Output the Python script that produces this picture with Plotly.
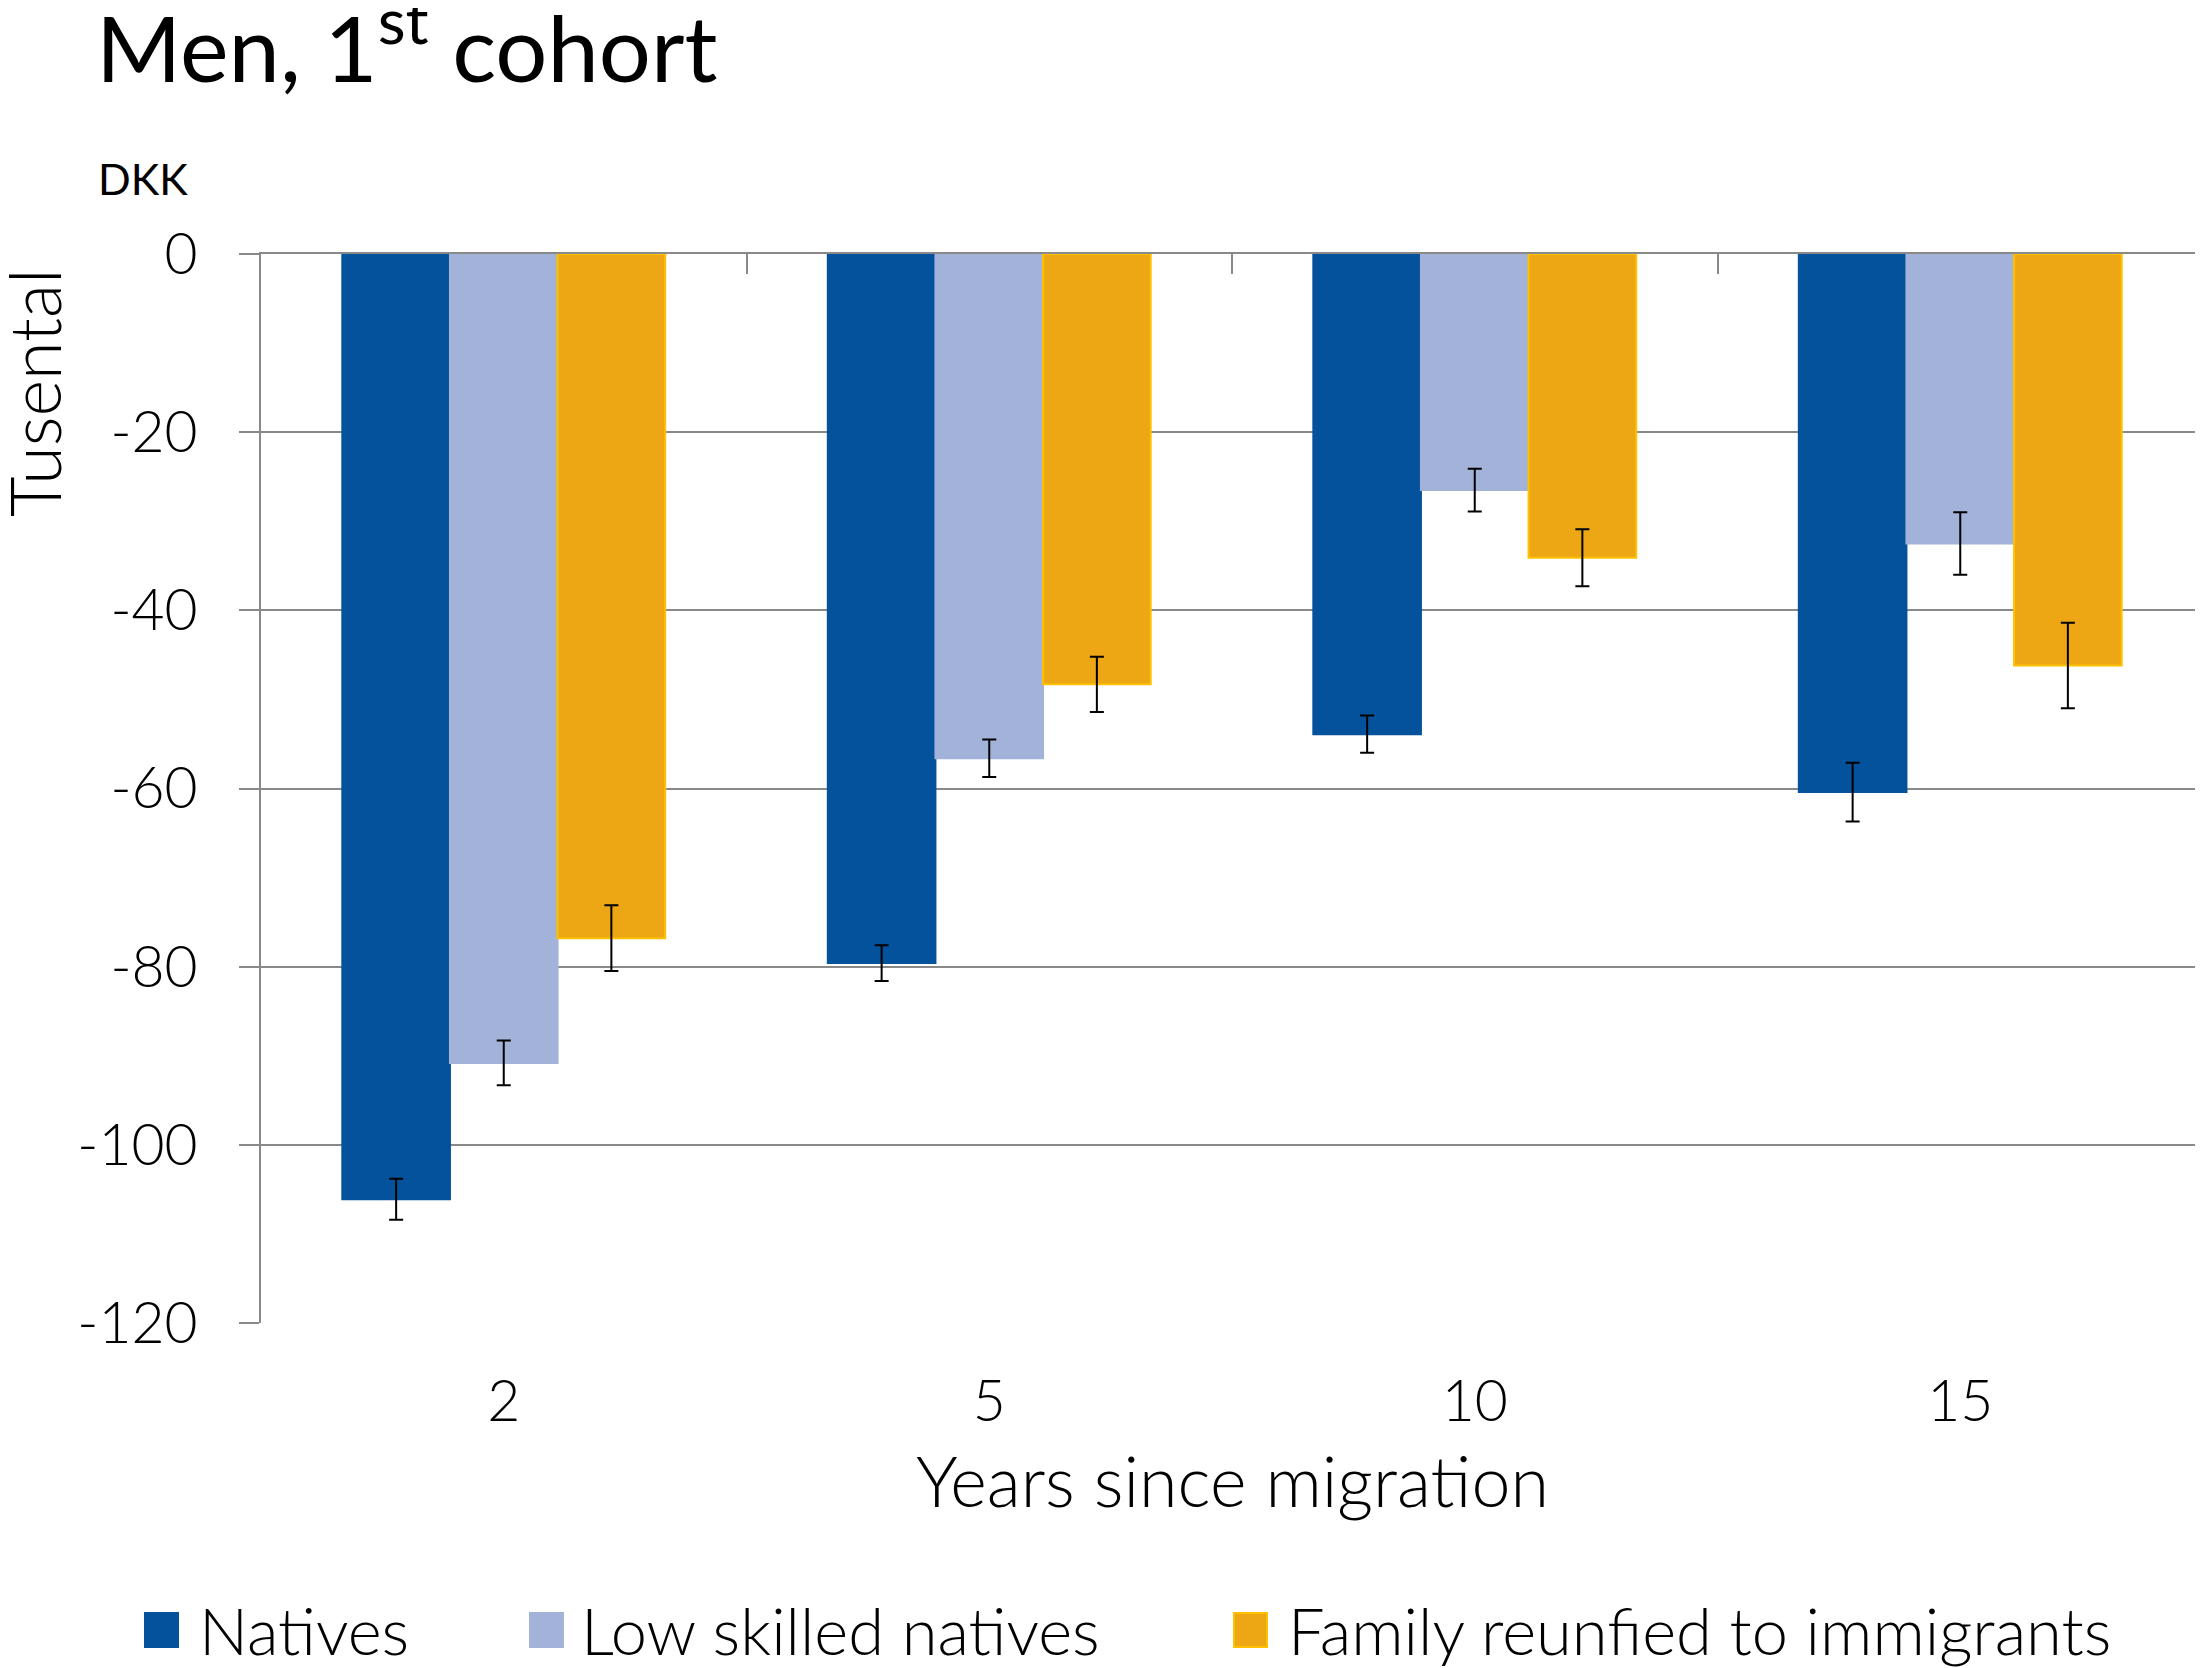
import plotly.graph_objects as go

# data (thousand DKK)
YEARS = ["2", "5", "10", "15"]
SERIES = ["Natives", "Low skilled natives", "Family reunfied to immigrants"]
NATIVES = [-106.1, -79.6, -53.9, -60.4]
NATIVES_ERR = [2.3, 2.0, 2.1, 3.3]
LOW_SKILLED = [-90.8, -56.6, -26.5, -32.5]
LOW_SKILLED_ERR = [2.5, 2.1, 2.4, 3.5]
FAMILY = [-76.8, -48.3, -34.1, -46.2]
FAMILY_ERR = [3.7, 3.1, 3.2, 4.8]
Y_TICKS = [0, -20, -40, -60, -80, -100, -120]
Y_TICK_LABELS = ["0", "-20", "-40", "-60", "-80", "-100", "-120"]

COLORS = ["#04529C", "#A2B2D9", "#EDA614"]
LINES = ["#04529C", "#A2B2D9", "#FFC000"]
GRID = "#898989"

# the page puts the figure 8px in from the top-left corner
OFF = 8
W, H = 2203 - OFF, 1668 - OFF
PLOT_L, PLOT_T, PLOT_B = 261, 254, 1323  # in page pixels
L, R, T, B = PLOT_L - OFF, 0, PLOT_T - OFF, H - (PLOT_B - OFF)


def px(x):
    return (x - PLOT_L) / (W - L - R)


def py(y):
    return (PLOT_B - y) / (PLOT_B - PLOT_T)


xpos = list(range(len(YEARS)))
values = [NATIVES, LOW_SKILLED, FAMILY]
errors = [NATIVES_ERR, LOW_SKILLED_ERR, FAMILY_ERR]

fig = go.Figure()
for name, vals, errs, col, lc in zip(SERIES, values, errors, COLORS, LINES):
    fig.add_trace(go.Bar(
        x=xpos,
        y=vals,
        name=name,
        marker=dict(color=col, line=dict(color=lc, width=2)),
        error_y=dict(type="data", array=errs, color="black", thickness=2, width=7),
        showlegend=False
    ))

tick_font = dict(family="Lato", size=57, color="black", weight=300)

fig.update_layout(
    width=W,
    height=H,
    margin=dict(l=L, r=R, t=T, b=B),
    paper_bgcolor="white",
    plot_bgcolor="white",
    barmode="group",
    bargap=0.335,
    bargroupgap=0,
    font=dict(family="Lato", color="black"),
    title=dict(
        text="Men, 1<sup>st</sup> cohort",
        font=dict(family="Lato", size=92, color="black"),
        x=(96 - OFF) / W, xref="container", xanchor="left",
        y=1 - (50 - OFF) / H, yref="container", yanchor="middle"
    ),
    xaxis=dict(
        range=[-0.5, len(YEARS) - 0.5],
        tickvals=xpos,
        ticktext=YEARS,
        tickfont=tick_font,
        ticks="",
        ticklabelstandoff=40,
        showgrid=False,
        showline=False,
        zeroline=False
    ),
    xaxis2=dict(
        overlaying="x",
        anchor="y",
        side="top",
        range=[-0.5, len(YEARS) - 0.5],
        tickvals=[i + 0.5 for i in xpos[:-1]],
        ticks="inside",
        ticklen=20,
        tickwidth=2,
        tickcolor=GRID,
        showticklabels=False,
        showline=True,
        linecolor=GRID,
        linewidth=2,
        showgrid=False,
        zeroline=False
    ),
    yaxis=dict(
        range=[-120, 0],
        tickvals=Y_TICKS,
        ticktext=Y_TICK_LABELS,
        tickfont=tick_font,
        ticks="outside",
        ticklen=20,
        tickwidth=2,
        tickcolor=GRID,
        ticklabelstandoff=30,
        showgrid=True,
        gridcolor=GRID,
        gridwidth=2,
        showline=True,
        linecolor=GRID,
        linewidth=2,
        zeroline=False
    )
)

fig.add_trace(go.Scatter(x=[None], y=[None], xaxis="x2", showlegend=False, hoverinfo="skip"))

annotations = [
    dict(text="DKK", x=px(96), y=py(178), xanchor="left", yanchor="middle",
         font=dict(family="Lato", size=43, color="black")),
    dict(text="Tusental", x=px(34), y=py(393), textangle=-90, xanchor="center", yanchor="middle",
         font=dict(family="Lato", size=70, color="black", weight=300)),
    dict(text="Years since migration", x=px(1232), y=py(1480), xanchor="center", yanchor="middle",
         font=dict(family="Lato", size=70, color="black", weight=300)),
]

# legend drawn by hand so the swatches match the reference size
sw_left = [145, 530, 1234]
txt_left = [197, 579, 1286]
for name, col, lc, sx, tx in zip(SERIES, COLORS, LINES, sw_left, txt_left):
    fig.add_shape(type="rect", xref="paper", yref="paper",
                  x0=px(sx), x1=px(sx + 33), y0=py(1647), y1=py(1613),
                  fillcolor=col, line=dict(color=lc, width=2))
    annotations.append(dict(text=name, x=px(tx), y=py(1630), xanchor="left", yanchor="middle",
                            font=dict(family="Lato", size=65, color="black", weight=300)))

for a in annotations:
    a.update(xref="paper", yref="paper", showarrow=False)
fig.update_layout(annotations=annotations)

fig.write_html("out.html")
